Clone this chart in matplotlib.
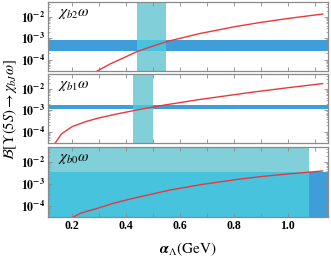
import numpy as np
import matplotlib
matplotlib.use('Agg')
import matplotlib.pyplot as plt
from matplotlib.patches import Rectangle
from matplotlib.ticker import FixedLocator, FixedFormatter, LogLocator, NullFormatter

plt.rcParams['font.family'] = 'Liberation Serif'
plt.rcParams['mathtext.fontset'] = 'stix'

# red curves
alpha_b2 = [0.293, 0.341, 0.389, 0.441, 0.489, 0.552, 0.674, 0.807, 0.90, 1.00, 1.13]
br_b2 = [3e-5, 6.4e-5, 1.21e-4, 2.44e-4, 3.96e-4, 7.2e-4, 1.69e-3, 3.6e-3, 5.6e-3, 8.5e-3, 1.38e-2]

alpha_b1 = [0.137, 0.16, 0.20, 0.25, 0.30, 0.37, 0.44, 0.55, 0.67, 0.86, 1.00, 1.13]
br_b1 = [3e-5, 8e-5, 1.75e-4, 3.0e-4, 4.5e-4, 7e-4, 1.05e-3, 1.85e-3, 3.2e-3, 6.9e-3, 1.15e-2, 1.8e-2]

alpha_b0 = [0.204, 0.23, 0.293, 0.352, 0.415, 0.563, 0.68, 0.807, 0.90, 1.00, 1.13]
br_b0 = [3e-5, 4.5e-5, 7.6e-5, 1.29e-4, 2.04e-4, 5.3e-4, 9.5e-4, 1.6e-3, 2.2e-3, 2.9e-3, 4.0e-3]

# experimental bands: (x range of the vertical band, y range of the horizontal band)
xband_b2 = (0.44, 0.55)
yband_b2 = (2.6e-4, 8.5e-4)
xband_b1 = (0.425, 0.50)
yband_b1 = (1.15e-3, 1.75e-3)
xband_b0 = (0.0, 1.08)
yband_b0 = (1e-6, 3.7e-3)

names = [r'$\chi_{b2}\omega$', r'$\chi_{b1}\omega$', r'$\chi_{b0}\omega$']
xlim = (0.11, 1.15)
ylim = (3e-5, 5e-2)

c_vband = '#80cfd9'
c_hband = '#3f9dd9'
c_both = '#47c3de'
c_line = '#e8383d'
c_frame = '#8a8a8a'

fig = plt.figure(figsize=(3.31, 2.60), dpi=100)
bottoms = [0.727, 0.450, 0.165]
heights = [0.265, 0.265, 0.269]

curves = [(alpha_b2, br_b2), (alpha_b1, br_b1), (alpha_b0, br_b0)]
xbands = [xband_b2, xband_b1, xband_b0]
ybands = [yband_b2, yband_b1, yband_b0]

for i in range(3):
    ax = fig.add_axes([0.145, bottoms[i], 0.846, heights[i]])
    ax.set_yscale('log')
    ax.set_xlim(*xlim)
    ax.set_ylim(*ylim)
    xb = xbands[i]
    yb = ybands[i]
    ax.axvspan(xb[0], xb[1], color=c_vband, lw=0, zorder=1)
    ax.axhspan(yb[0], yb[1], color=c_hband, lw=0, zorder=1)
    # where both bands overlap the colour is a brighter cyan
    ax.add_patch(Rectangle((xb[0], yb[0]), xb[1] - xb[0], yb[1] - yb[0],
                           color=c_both, lw=0, zorder=1.5))
    x, y = curves[i]
    ax.plot(x, y, color=c_line, lw=1.0, zorder=3)
    ax.text(0.035, 0.93, names[i], transform=ax.transAxes, fontsize=11,
            va='top', ha='left', zorder=4)

    ax.yaxis.set_major_locator(FixedLocator([1e-4, 1e-3, 1e-2]))
    ax.yaxis.set_major_formatter(FixedFormatter([r'$\mathbf{10^{-4}}$', r'$\mathbf{10^{-3}}$', r'$\mathbf{10^{-2}}$']))
    ax.yaxis.set_minor_locator(LogLocator(base=10, subs=np.arange(2, 10)))
    ax.yaxis.set_minor_formatter(NullFormatter())
    ax.xaxis.set_major_locator(FixedLocator(np.arange(0.2, 1.15, 0.1)))
    if i == 2:
        ax.xaxis.set_major_formatter(FixedFormatter(['0.2', '', '0.4', '', '0.6', '', '0.8', '', '1.0', '']))
    else:
        ax.xaxis.set_major_formatter(NullFormatter())
    ax.tick_params(which='both', direction='in', top=True, right=True, color=c_frame)
    ax.tick_params(which='major', length=3, width=0.6, labelsize=8.5, pad=2)
    ax.tick_params(which='minor', length=1.5, width=0.5)
    for lab in ax.get_xticklabels():
        lab.set_fontweight('bold')
    for s in ax.spines.values():
        s.set_color(c_frame)
        s.set_linewidth(0.9)
        s.set_zorder(5)

fig.text(0.03, 0.58, r'$\mathcal{B}[\Upsilon(5S)\to\chi_{bJ}\omega]$', rotation=90,
         ha='center', va='center', fontsize=10.5)
fig.text(0.568, 0.04, r'$\boldsymbol{\alpha}_{\Lambda}\mathrm{(GeV)}$', ha='center',
         va='center', fontsize=11)

fig.savefig('out.png', dpi=100)
